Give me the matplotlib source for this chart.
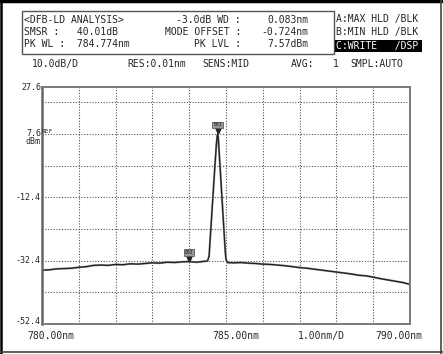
import matplotlib
matplotlib.use("Agg")
import matplotlib.pyplot as plt
import matplotlib.patches as patches
from matplotlib.transforms import offset_copy

# spectrum (nm, dBm)
wavelength = [780.0, 780.2, 780.4, 780.6, 780.8, 781.0, 781.2, 781.4, 781.6, 781.8,
              782.0, 782.2, 782.4, 782.6, 782.8, 783.0, 783.2, 783.4, 783.6, 783.8,
              784.0, 784.2, 784.35, 784.5, 784.54, 784.59, 784.64, 784.69, 784.74, 784.76,
              784.774, 784.79, 784.84, 784.89, 784.94, 784.98, 785.0, 785.04,
              785.2, 785.4, 785.6, 785.8, 786.0, 786.2, 786.4, 786.6, 786.8, 787.0,
              787.2, 787.4, 787.6, 787.8, 788.0, 788.2, 788.4, 788.6, 788.8, 789.0,
              789.2, 789.4, 789.6, 789.8, 790.0]
level = [-35.4, -35.3, -35.0, -34.9, -34.8, -34.5, -34.3, -33.9, -33.8, -33.9,
         -33.6, -33.7, -33.4, -33.5, -33.3, -33.1, -33.2, -32.9, -33.0, -32.8,
         -32.7, -32.9, -32.7, -32.5, -31.0, -22.0, -13.0, -4.0, 4.5, 6.8,
         7.57, 6.5, -3.0, -12.5, -22.0, -29.5, -32.0, -33.0,
         -33.1, -33.0, -33.2, -33.3, -33.5, -33.6, -33.8, -34.0, -34.3, -34.6,
         -34.8, -35.1, -35.4, -35.7, -36.0, -36.3, -36.6, -37.0, -37.2, -37.6,
         -38.1, -38.5, -38.9, -39.3, -39.9]

x_labels = ["780.00nm", "785.00nm", "1.00nm/D", "790.00nm"]
y_label_vals = [7.6, -12.4, -32.4, -52.4]
y_top_label = "27.6"

marker_wl = [784.774, 784.0]
marker_lvl = [7.57, -32.7]
marker_names = ["001", "002"]

header_rows = [
    ("<DFB-LD ANALYSIS>", "-3.0dB WD :", "0.083nm", "A:MAX HLD /BLK"),
    ("SMSR :   40.01dB", "MODE OFFSET :", "-0.724nm", "B:MIN HLD /BLK"),
    ("PK WL :  784.774nm", "PK LVL :", "7.57dBm", "C:WRITE   /DSP"),
]
status_items = [("10.0dB/D", 32), ("RES:0.01nm", 127), ("SENS:MID", 202),
                ("AVG:", 291), ("1", 333), ("SMPL:AUTO", 350)]

W, H = 443.0, 354.0
TXT = "#262626"
MONO = "DejaVu Sans Mono"

fig = plt.figure(figsize=(4.43, 3.54), dpi=100)
fig.patch.set_facecolor("white")


def ftext(x, y, s, **kw):
    kw.setdefault("family", MONO)
    kw.setdefault("color", TXT)
    kw.setdefault("fontsize", 7)
    kw.setdefault("va", "center")
    return fig.text(x / W, 1 - y / H, s, **kw)


def fline(x0, y0, x1, y1, **kw):
    fig.add_artist(plt.Line2D([x0 / W, x1 / W], [1 - y0 / H, 1 - y1 / H],
                              transform=fig.transFigure, **kw))


# outer screen frame
fline(0, 1, 443, 1, color="black", lw=2.5)
fline(1, 0, 1, 354, color="black", lw=1.8)
fline(441, 0, 441, 354, color="#444444", lw=1.2)
fline(0, 352, 443, 352, color="#444444", lw=1.2)

# header box
fig.add_artist(patches.Rectangle((22 / W, 1 - 54 / H), 312 / W, 43 / H,
                                 transform=fig.transFigure, fill=False,
                                 ec="#555555", lw=1.0))
row_y = [20, 32, 44]
right_y = [19, 32, 46]
for (a, b, c, d), y, yr in zip(header_rows, row_y, right_y):
    ftext(24, y, a, ha="left")
    ftext(241, y, b, ha="right")
    ftext(308, y, c, ha="right")
    if d.startswith("C:"):
        fig.add_artist(patches.Rectangle((335 / W, 1 - (yr + 6) / H), 87 / W, 12 / H,
                                         transform=fig.transFigure, fc="black", ec="none"))
        ftext(336, yr, d, ha="left", color="white")
    else:
        ftext(336, yr, d, ha="left")

for s, x in status_items:
    ftext(x, 64, s, ha="left")

# plot area
ax = fig.add_axes([42 / W, 1 - 324 / H, 368 / W, 237 / H])
ax.set_xlim(780.0, 790.0)
ax.set_ylim(-52.4, 22.4)
ax.set_xticks([780 + i for i in range(11)])
ax.set_yticks([17.6 - 10 * i for i in range(8)])
ax.tick_params(length=0, labelbottom=False, labelleft=False)
ax.grid(True, color="#555555", linestyle=(0, (1, 1.5)), linewidth=0.8)
for side, sp in ax.spines.items():
    sp.set_color("#7a7a7a")
    sp.set_linewidth(1.4)
ax.spines["left"].set_linewidth(1.8)
ax.spines["left"].set_color("#666666")

ax.plot(wavelength, level, color="#9a9a9a", lw=1.5)
ax.plot(wavelength, level, color="#1e1e1e", lw=0.9)

for wl, lv, name in zip(marker_wl, marker_lvl, marker_names):
    tri = offset_copy(ax.transData, fig=fig, x=0, y=3, units="dots")
    ax.plot([wl], [lv], marker="v", ms=3.5, color="#222222", transform=tri)
    ax.annotate(name, xy=(wl, lv), xytext=(0, 6.5), textcoords="offset points",
                ha="center", va="center", fontsize=3.4, family=MONO, color="#111111",
                bbox=dict(boxstyle="square,pad=0.2", fc="#9a9a9a", ec="#444444", lw=0.5))

# y labels
ftext(41, 88, y_top_label, ha="right", fontsize=6)
for v in y_label_vals:
    ypx = 324 - (v + 52.4) * (237 / 74.8)
    if v == y_label_vals[-1]:
        ypx -= 3
    ftext(41, ypx, "%.1f" % v, ha="right", fontsize=6)
ypx_ref = 324 - (y_label_vals[0] + 52.4) * (237 / 74.8)
ftext(42, ypx_ref - 2, "REF", ha="left", fontsize=4.4)
ftext(41, ypx_ref + 8, "dBm", ha="right", fontsize=6)

# x labels
x_label_pos = [27, 212, 298, 375]
for s, x in zip(x_labels, x_label_pos):
    ftext(x, 336, s, ha="left")

fig.savefig("out.png", dpi=100)
